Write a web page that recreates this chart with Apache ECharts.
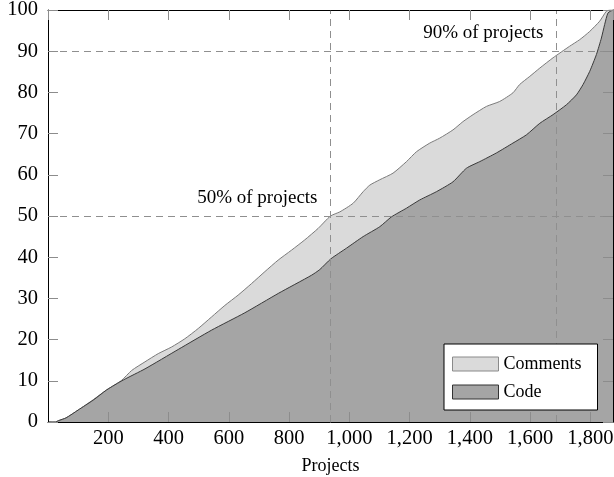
<!DOCTYPE html>
<html>
<head>
<meta charset="utf-8">
<script src="https://cdn.jsdelivr.net/npm/echarts@6/dist/echarts.min.js"></script>
<style>
html,body{margin:0;padding:0;background:#fff;}
#chart{width:614px;height:477px;}
</style>
</head>
<body>
<div id="chart"></div>
<script>
// Cumulative share (%) against number of projects
const codeX = [0, 25, 34, 60, 100, 150, 195, 250, 322, 432, 543, 653, 764, 874, 902, 938.6, 990.7, 1045.8, 1101, 1140, 1189.7, 1233.8, 1289, 1344, 1388.7, 1432.8, 1488, 1543, 1587.7, 1632, 1676, 1720.4, 1753.6, 1775.5, 1797.7, 1820, 1836.5, 1847.4, 1858.5, 1875];
const codeY = [0, 0, 0.3, 1.0, 2.9, 5.3, 7.8, 10.2, 12.9, 17.6, 22.3, 26.5, 31.2, 35.6, 37.0, 39.6, 42.2, 45.0, 47.4, 49.8, 51.9, 53.9, 55.9, 58.3, 61.6, 63.2, 65.3, 67.7, 69.7, 72.5, 74.6, 77.0, 79.4, 81.9, 85.1, 89.2, 93.2, 96.5, 99.3, 100];
const commentsX = [0, 25, 34, 60, 100, 150, 194.6, 244, 277.5, 321.7, 365.9, 410, 454, 498.6, 542.8, 587, 631, 675.5, 719.7, 763.9, 808, 852, 896.6, 937.5, 968.5, 1012.7, 1045.8, 1068, 1101, 1145, 1189.7, 1222.8, 1267, 1300, 1344, 1377, 1410.6, 1455, 1499, 1543, 1565, 1599, 1632, 1676, 1731, 1764.5, 1797.7, 1831, 1853, 1866, 1875];
const commentsY = [0, 0, 0.3, 1.0, 2.9, 5.4, 7.8, 10.1, 12.5, 14.6, 16.6, 18.2, 20.2, 22.7, 25.5, 28.3, 30.8, 33.6, 36.5, 39.3, 41.7, 44.2, 47.0, 50.0, 51.0, 53.1, 55.9, 57.5, 58.8, 60.4, 63.2, 65.6, 67.7, 68.9, 70.9, 72.9, 74.6, 76.6, 77.8, 79.9, 81.9, 83.9, 85.9, 88.4, 91.2, 92.8, 94.8, 97.3, 99.7, 100, 100];
const seriesNames = ['Comments', 'Code'];
const totalProjects = 1875;
const markerShares = [50, 90];
const markerProjects = [937.5, 1687.5];
const markerLabels = ['50% of projects', '90% of projects'];
const xTickInterval = 200;
const yTickInterval = 10;

const FONT = '"Liberation Serif", "DejaVu Serif", serif';
const pairs = (xs, ys) => xs.map((x, i) => [x, ys[i]]);
const fmt = v => Number(v).toLocaleString('en-US');

const chart = echarts.init(document.getElementById('chart'), null, {renderer: 'canvas'});

const tickStyle = {show: true, inside: true, length: 10, lineStyle: {color: '#8c8c8c', width: 1}};
const axLine = {show: true, onZero: false, lineStyle: {color: '#000', width: 1}};
const dashStyle = {color: '#8f8f8f', width: 1, type: [7, 5]};

const option = {
  animation: false,
  backgroundColor: '#fff',
  grid: {left: 48, right: 1, top: 10, bottom: 55, containLabel: false, outerBoundsMode: 'none'},
  legend: {
    orient: 'vertical',
    left: 444, top: 344,
    padding: [10, 16, 8, 8],
    itemGap: 8,
    itemWidth: 46, itemHeight: 14,
    backgroundColor: '#fff',
    borderColor: '#000', borderWidth: 1,
    textStyle: {fontFamily: FONT, fontSize: 18, color: '#000', lineHeight: 20},
    data: [
      {name: seriesNames[0], icon: 'rect', itemStyle: {color: '#dadada', borderColor: '#8a8a8a', borderWidth: 1}},
      {name: seriesNames[1], icon: 'rect', itemStyle: {color: '#a5a5a5', borderColor: '#333', borderWidth: 1}}
    ],
    z: 20
  },
  xAxis: [{
    type: 'value', position: 'bottom', min: 0, max: totalProjects, interval: xTickInterval,
    name: 'Projects', nameLocation: 'middle', nameGap: 35,
    nameTextStyle: {fontFamily: FONT, fontSize: 18, color: '#000'},
    axisLine: axLine, axisTick: tickStyle, splitLine: {show: false},
    axisLabel: {fontFamily: FONT, fontSize: 20.5, color: '#000', margin: 6, showMinLabel: false, showMaxLabel: false, formatter: fmt},
    z: 10
  }, {
    type: 'value', position: 'top', min: 0, max: totalProjects, interval: xTickInterval,
    axisLine: axLine, axisTick: tickStyle, splitLine: {show: false}, axisLabel: {show: false},
    z: 10
  }],
  yAxis: [{
    type: 'value', position: 'left', min: 0, max: 100, interval: yTickInterval,
    axisLine: axLine, axisTick: tickStyle, splitLine: {show: false},
    axisLabel: {fontFamily: FONT, fontSize: 20.5, color: '#000', margin: 10},
    z: 10
  }, {
    type: 'value', position: 'right', min: 0, max: 100, interval: yTickInterval,
    axisLine: axLine, axisTick: tickStyle, splitLine: {show: false}, axisLabel: {show: false},
    z: 10
  }],
  series: [{
    name: seriesNames[0], type: 'line', showSymbol: false, symbol: 'none',
    smooth: 0.2,
    data: pairs(commentsX, commentsY),
    lineStyle: {color: '#7a7a7a', width: 1},
    itemStyle: {color: '#dadada'},
    areaStyle: {color: '#dadada', opacity: 1},
    z: 2
  }, {
    name: seriesNames[1], type: 'line', showSymbol: false, symbol: 'none',
    smooth: 0.2,
    data: pairs(codeX, codeY),
    lineStyle: {color: '#3a3a3a', width: 1},
    itemStyle: {color: '#a5a5a5'},
    areaStyle: {color: '#a5a5a5', opacity: 1},
    z: 3,
    markLine: {
      silent: true, symbol: 'none', z: 5,
      lineStyle: dashStyle,
      label: {show: false},
      data: [
        {yAxis: markerShares[0]}, {yAxis: markerShares[1]},
        {xAxis: markerProjects[0]}, {xAxis: markerProjects[1]}
      ]
    },
    markPoint: {
      silent: true, symbol: 'circle', symbolSize: 0, z: 6,
      label: {show: true, position: 'left', distance: 13, offset: [0, -18],
              fontFamily: FONT, fontSize: 19, color: '#000',
              formatter: p => p.name},
      data: markerProjects.map((x, i) => ({name: markerLabels[i], coord: [x, markerShares[i]]}))
    }
  }]
};
chart.setOption(option);
</script>
</body>
</html>
